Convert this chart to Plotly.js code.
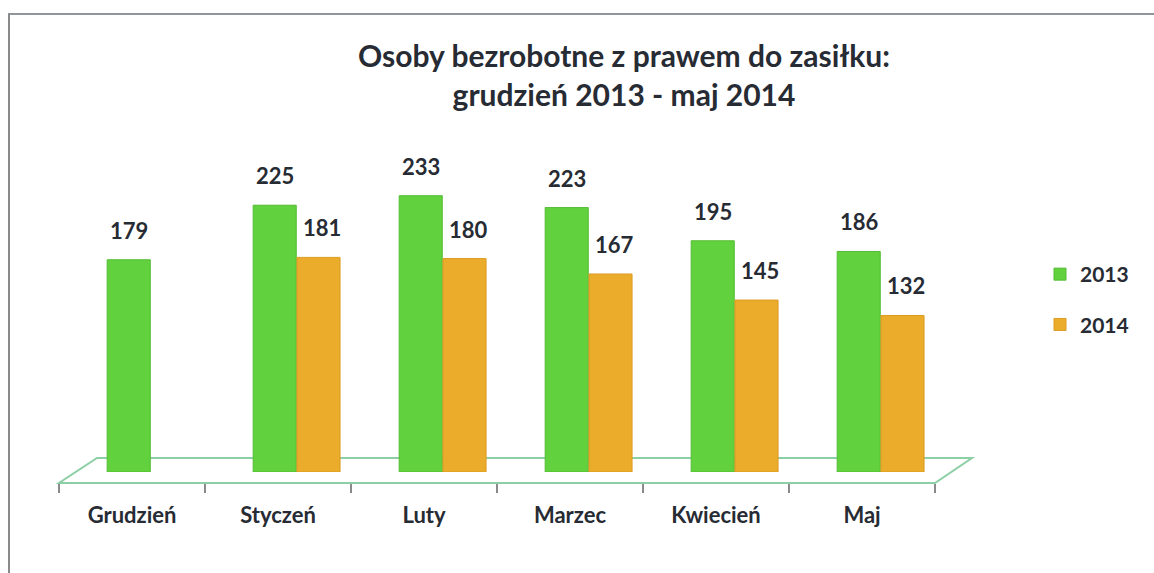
<!DOCTYPE html>
<html>
<head>
<meta charset="utf-8">
<script src="https://cdn.plot.ly/plotly-3.0.1.min.js"></script>
<style>
  html, body { margin: 0; padding: 0; background: #ffffff; }
  #wrap { position: relative; width: 1154px; height: 573px; overflow: hidden; }
  #chart { position: absolute; left: 0; top: 0; width: 1154px; height: 573px; }
  #frame { position: absolute; left: 8px; top: 13px; width: 1160px; height: 580px;
           border-left: 2px solid #8a8a8a; border-top: 2px solid #8f959c; pointer-events: none; }
</style>
</head>
<body>
<div id="wrap">
  <div id="chart"></div>
  <div id="frame"></div>
</div>
<script>
const categories = ['Grudzień', 'Styczeń', 'Luty', 'Marzec', 'Kwiecień', 'Maj'];
const values2013 = [179, 225, 233, 223, 195, 186];
const values2014 = [null, 181, 180, 167, 145, 132];
const seriesNames = ['2013', '2014'];
const chartTitle = 'Osoby bezrobotne z prawem do zasiłku:<br>grudzień 2013 - maj 2014';

const FONT = 'Lato, "Open Sans", "DejaVu Sans", sans-serif';
const TXT = '#272b33';
const colors = ['#62d13e', '#ebac2c'];
const lineColors = ['#52bb32', '#db9c20'];
const offsets = [-0.17, 0.13];
const barWidth = 0.295;
const labelShift = [-3, 44];

const series = [values2013, values2014];
const traces = series.map((vals, i) => ({
  type: 'bar',
  name: seriesNames[i],
  x: categories,
  y: vals,
  width: barWidth,
  offset: offsets[i],
  legendgroup: 'g' + i,
  marker: { color: colors[i], line: { color: lineColors[i], width: 1 } },
  hoverinfo: 'x+y+name'
}));

const annotations = [];
series.forEach((vals, i) => {
  vals.forEach((v, j) => {
    if (v === null) return;
    annotations.push({
      x: categories[j], y: v, xref: 'x', yref: 'y',
      text: String(v), showarrow: false,
      xanchor: 'center', yanchor: 'bottom',
      xshift: labelShift[i], yshift: 14,
      font: { family: FONT, size: 22, color: TXT, weight: 'bold' }
    });
  });
});

const layout = {
  width: 1154, height: 573,
  margin: { l: 59, r: 219, t: 140, b: 90 },
  paper_bgcolor: 'rgba(0,0,0,0)',
  plot_bgcolor: 'rgba(0,0,0,0)',
  barmode: 'overlay',
  title: {
    text: chartTitle,
    x: 624 / 1154, xref: 'container', xanchor: 'center',
    y: 1 - 67 / 573, yref: 'container', yanchor: 'top',
    font: { family: FONT, size: 30, color: TXT, weight: 'bold' }
  },
  xaxis: {
    type: 'category',
    range: [-0.5, 5.5],
    anchor: 'free', position: 0,
    tickson: 'boundaries',
    ticks: 'outside', ticklen: 9, tickwidth: 1.5, tickcolor: '#8a8a8a',
    showline: true, linecolor: '#8ccfa5', linewidth: 2,
    showgrid: false, zeroline: false,
    ticklabelstandoff: 13,
    tickfont: { family: FONT, size: 22, color: TXT, weight: 'bold' },
    fixedrange: true
  },
  yaxis: {
    domain: [11 / 343, 1],
    range: [0, 280],
    visible: false, showgrid: false, zeroline: false,
    fixedrange: true
  },
  showlegend: true,
  legend: {
    x: (1040 - 59) / 876, xanchor: 'left',
    y: (483 - 254) / 343, yanchor: 'top',
    traceorder: 'grouped', tracegroupgap: 20,
    font: { family: FONT, size: 21, color: TXT, weight: 'bold' },
    bgcolor: 'rgba(0,0,0,0)'
  },
  shapes: [{
    type: 'path', xref: 'paper', yref: 'paper', layer: 'below',
    path: 'M 0,0 L 1,0 L 1.0422,0.0729 L 0.0434,0.0729 Z',
    line: { color: '#8ccfa5', width: 2 },
    fillcolor: 'rgba(0,0,0,0)'
  }],
  annotations: annotations
};

Plotly.newPlot('chart', traces, layout, { displayModeBar: false, staticPlot: true });
</script>
</body>
</html>
